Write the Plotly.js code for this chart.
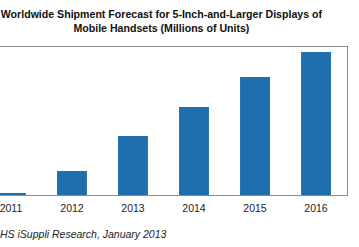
<!DOCTYPE html>
<html>
<head>
<meta charset="utf-8">
<script src="https://cdn.plot.ly/plotly-3.0.1.min.js"></script>
<style>
  html, body { margin: 0; padding: 0; background: #ffffff; overflow: hidden; }
  #chart { width: 359px; height: 247px; }
</style>
</head>
<body>
<div id="chart"></div>
<script>
// Shipments of 5-inch-and-larger handset displays, millions of units
const years = ['2011', '2012', '2013', '2014', '2015', '2016'];
const shipments = [4, 48, 118, 176, 236, 286];

const titleLines = [
  'Worldwide Shipment Forecast for 5-Inch-and-Larger Displays of',
  'Mobile Handsets (Millions of Units)'
];
const sourceNote = 'Source: IHS iSuppli Research, January 2013';

const barColor = '#1f6ead';
const frameColor = '#8c8c8c';

const trace = {
  type: 'bar',
  x: years,
  y: shipments,
  marker: { color: barColor, line: { width: 0 } },
  hoverinfo: 'x+y'
};

const layout = {
  width: 359,
  height: 247,
  margin: { l: 0, r: 12, t: 47, b: 52 },
  paper_bgcolor: '#ffffff',
  plot_bgcolor: '#ffffff',
  bargap: 0.51,
  showlegend: false,
  font: { family: 'Liberation Sans, Arial, sans-serif', color: '#222222' },
  title: {
    text: '<b>' + titleLines.join('<br>') + '</b>',
    font: { family: 'Liberation Sans, Arial, sans-serif', size: 10.6, color: '#111111' },
    x: 167 / 359,
    xanchor: 'center',
    xref: 'paper',
    y: 1,
    yref: 'container',
    yanchor: 'top',
    pad: { t: 18 }
  },
  xaxis: {
    type: 'category',
    range: [-0.18, 5.508],
    showline: true,
    mirror: true,
    linecolor: frameColor,
    linewidth: 1,
    showgrid: false,
    zeroline: false,
    ticks: '',
    ticklabelstandoff: 3,
    tickfont: { family: 'Liberation Sans, Arial, sans-serif', size: 10.5, color: '#222222' },
    fixedrange: true
  },
  yaxis: {
    range: [0, 296],
    side: 'right',
    showline: true,
    linecolor: frameColor,
    linewidth: 1,
    showgrid: false,
    zeroline: false,
    showticklabels: false,
    ticks: '',
    fixedrange: true
  },
  annotations: [{
    text: '<i>' + sourceNote + '</i>',
    xref: 'paper',
    yref: 'paper',
    x: 169 / 347,
    xanchor: 'right',
    y: -0.265,
    yanchor: 'middle',
    showarrow: false,
    font: { family: 'Liberation Sans, Arial, sans-serif', size: 10.5, color: '#222222' }
  }]
};

Plotly.newPlot('chart', [trace], layout, { displayModeBar: false, staticPlot: true });
</script>
</body>
</html>
